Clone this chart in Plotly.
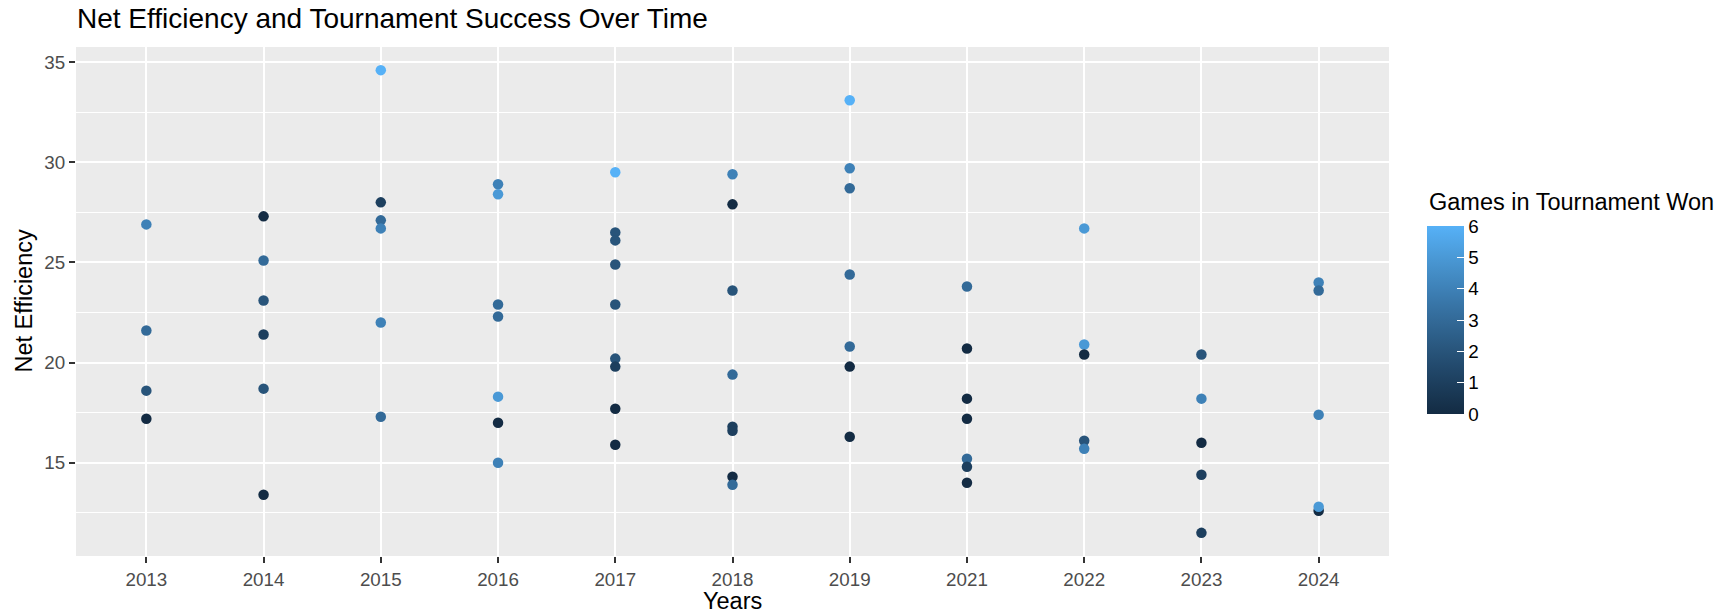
import plotly.graph_objects as go

# ---------------- data ----------------
years = ["2013", "2014", "2015", "2016", "2017", "2018", "2019", "2021", "2022", "2023", "2024"]

net_2013 = [26.9, 21.6, 18.6, 17.2]
won_2013 = [4, 3, 2, 0]
net_2014 = [27.3, 25.1, 23.1, 21.4, 18.7, 13.4]
won_2014 = [0, 3, 2, 1, 2, 0]
net_2015 = [34.6, 28.0, 27.1, 26.7, 22.0, 17.3]
won_2015 = [6, 1, 3, 4, 4, 3]
net_2016 = [28.9, 28.4, 22.9, 22.3, 18.3, 17.0, 15.0]
won_2016 = [4, 5, 3, 3, 5, 0, 4]
net_2017 = [29.5, 26.5, 26.1, 24.9, 22.9, 20.2, 19.8, 17.7, 15.9]
won_2017 = [6, 2, 2, 2, 2, 2, 1, 0, 0]
net_2018 = [29.4, 27.9, 23.6, 19.4, 16.8, 16.6, 14.3, 13.9]
won_2018 = [4, 0, 2, 3, 1, 1, 0, 3]
net_2019 = [33.1, 29.7, 28.7, 24.4, 20.8, 19.8, 16.3]
won_2019 = [6, 4, 3, 3, 3, 0, 0]
net_2021 = [23.8, 20.7, 18.2, 17.2, 15.2, 14.8, 14.0]
won_2021 = [3, 0, 0, 0, 3, 1, 0]
net_2022 = [26.7, 20.9, 20.4, 16.1, 15.7]
won_2022 = [5, 5, 0, 2, 4]
net_2023 = [20.4, 18.2, 16.0, 14.4, 11.5]
won_2023 = [2, 4, 0, 1, 1]
net_2024 = [24.0, 23.6, 17.4, 12.6, 12.8]
won_2024 = [4, 3, 4, 0, 5]

net_by_year = [net_2013, net_2014, net_2015, net_2016, net_2017, net_2018,
               net_2019, net_2021, net_2022, net_2023, net_2024]
won_by_year = [won_2013, won_2014, won_2015, won_2016, won_2017, won_2018,
               won_2019, won_2021, won_2022, won_2023, won_2024]

colorbar_ticks = [0, 1, 2, 3, 4, 5, 6]

x_vals, y_vals, c_vals = [], [], []
for yr, nets, wons in zip(years, net_by_year, won_by_year):
    for n, w in zip(nets, wons):
        x_vals.append(yr)
        y_vals.append(n)
        c_vals.append(w)

# ---------------- ggplot-like Lab gradient ----------------
def _srgb_to_lin(c):
    c = c / 255.0
    return c / 12.92 if c <= 0.04045 else ((c + 0.055) / 1.055) ** 2.4

def _lin_to_srgb(c):
    c = max(0.0, min(1.0, c))
    v = 12.92 * c if c <= 0.0031308 else 1.055 * c ** (1 / 2.4) - 0.055
    return int(round(max(0, min(1, v)) * 255))

WX, WY, WZ = 0.95047, 1.0, 1.08883

def _f(t):
    return t ** (1 / 3) if t > (6 / 29) ** 3 else t / (3 * (6 / 29) ** 2) + 4 / 29

def _finv(t):
    return t ** 3 if t > 6 / 29 else 3 * (6 / 29) ** 2 * (t - 4 / 29)

def hex_to_lab(h):
    r, g, b = [_srgb_to_lin(int(h[i:i + 2], 16)) for i in (1, 3, 5)]
    X = 0.4124 * r + 0.3576 * g + 0.1805 * b
    Y = 0.2126 * r + 0.7152 * g + 0.0722 * b
    Z = 0.0193 * r + 0.1192 * g + 0.9505 * b
    fx, fy, fz = _f(X / WX), _f(Y / WY), _f(Z / WZ)
    return 116 * fy - 16, 500 * (fx - fy), 200 * (fy - fz)

def lab_to_hex(L, a, b):
    fy = (L + 16) / 116
    fx = fy + a / 500
    fz = fy - b / 200
    X, Y, Z = WX * _finv(fx), WY * _finv(fy), WZ * _finv(fz)
    r = 3.2406 * X - 1.5372 * Y - 0.4986 * Z
    g = -0.9689 * X + 1.8758 * Y + 0.0415 * Z
    bb = 0.0557 * X - 0.2040 * Y + 1.0570 * Z
    return "#%02x%02x%02x" % (_lin_to_srgb(r), _lin_to_srgb(g), _lin_to_srgb(bb))

low, high = hex_to_lab("#132B43"), hex_to_lab("#56B1F7")
n_stops = 13
colorscale = []
for i in range(n_stops):
    t = i / (n_stops - 1)
    lab = [low[k] + (high[k] - low[k]) * t for k in range(3)]
    colorscale.append([t, lab_to_hex(*lab)])

# ---------------- figure ----------------
W, H = 1736, 613
L_M, R_M, T_M, B_M = 76, 347, 47, 57
PW, PH = W - L_M - R_M, H - T_M - B_M

FONT = "Liberation Sans, Arial, Helvetica, sans-serif"

fig = go.Figure()
fig.add_trace(go.Scatter(
    x=x_vals, y=y_vals, mode="markers",
    marker=dict(
        size=10.5, color=c_vals, colorscale=colorscale, cmin=0, cmax=6,
        line=dict(width=0),
        showscale=True,
        colorbar=dict(
            tickvals=colorbar_ticks,
            ticktext=[str(v) for v in colorbar_ticks],
            ticks="inside", ticklen=7, tickcolor="#ffffff", tickwidth=1.2,
            tickfont=dict(size=18.8, color="#000000", family=FONT),
            x=1427 / W, xanchor="left", xref="container",
            y=(556 - 226) / PH, yanchor="top", yref="paper",
            len=188, lenmode="pixels", thickness=37, thicknessmode="pixels",
            xpad=0, ypad=0, outlinewidth=0,
        ),
    ),
    showlegend=False,
    hoverinfo="x+y",
))

fig.update_layout(
    width=W, height=H,
    margin=dict(l=L_M, r=R_M, t=T_M, b=B_M, autoexpand=False),
    paper_bgcolor="#ffffff",
    plot_bgcolor="#EBEBEB",
    font=dict(family=FONT, color="#000000"),
    title=dict(
        text="Net Efficiency and Tournament Success Over Time",
        x=77 / W, xanchor="left", xref="container",
        y=1 - 18 / H, yanchor="middle", yref="container",
        font=dict(size=28, color="#000000", family=FONT),
    ),
    xaxis=dict(
        type="category", categoryorder="array", categoryarray=years,
        range=[-0.6, len(years) - 1 + 0.6],
        showgrid=True, gridcolor="#ffffff", gridwidth=2.3,
        zeroline=False, showline=False,
        ticks="outside", ticklen=6, tickwidth=2.2, tickcolor="#333333",
        tickfont=dict(size=18.8, color="#4D4D4D", family=FONT),
        fixedrange=True,
    ),
    yaxis=dict(
        range=[10.345, 35.755],
        tickvals=[15, 20, 25, 30, 35],
        showgrid=True, gridcolor="#ffffff", gridwidth=2.3,
        minor=dict(tickvals=[12.5, 17.5, 22.5, 27.5, 32.5], showgrid=True,
                   gridcolor="#ffffff", gridwidth=1.2, ticks=""),
        zeroline=False, showline=False,
        ticks="outside", ticklen=6, tickwidth=2.2, tickcolor="#333333",
        tickfont=dict(size=18.8, color="#4D4D4D", family=FONT),
        fixedrange=True,
    ),
    annotations=[
        dict(text="Years", xref="paper", yref="paper",
             x=0.5, y=(556 - 601) / PH, xanchor="center", yanchor="middle",
             showarrow=False, font=dict(size=23.5, color="#000000", family=FONT)),
        dict(text="Net Efficiency", xref="paper", yref="paper",
             x=(23 - L_M) / PW, y=0.5, xanchor="center", yanchor="middle",
             textangle=-90, showarrow=False,
             font=dict(size=23.5, color="#000000", family=FONT)),
        dict(text="Games in Tournament Won", xref="paper", yref="paper",
             x=(1427 - L_M) / PW, y=(556 - 202) / PH,
             xanchor="left", yanchor="middle", showarrow=False,
             font=dict(size=23.5, color="#000000", family=FONT)),
    ],
)

fig.write_html(
    "out.html",
    config={"displayModeBar": False},
    post_script="document.body.style.margin='0';document.body.style.padding='0';"
                "document.documentElement.style.overflow='hidden';",
)
